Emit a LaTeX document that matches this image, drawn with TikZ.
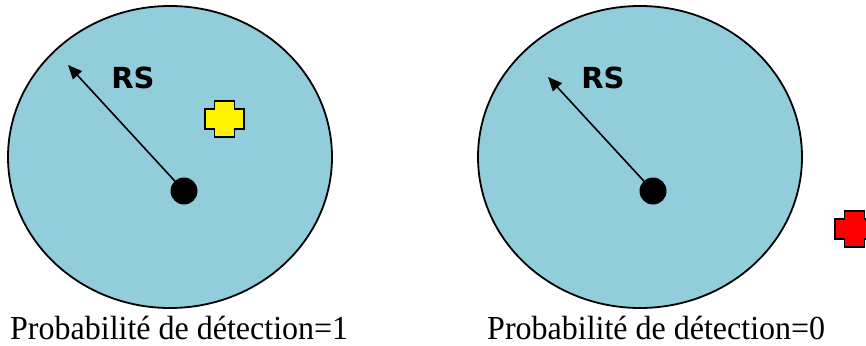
\documentclass[tikz,border=0pt]{standalone}
\usepackage{fontspec}
\setmainfont{Liberation Serif}
\newfontfamily\rsfont{DejaVu Sans}
\usepackage{xcolor}
\usepackage{tikz}
\usetikzlibrary{arrows.meta, positioning}
\definecolor{zonebleu}{RGB}{146, 205, 220}

\begin{document}
\begin{tikzpicture}[
  x=1pt, y=-1pt,
  zone/.style={draw=black, fill=zonebleu, line width=1.8pt},
  capteur/.style={circle, fill=black, inner sep=0pt, minimum size=27pt},
  rayon/.style={-{Triangle[length=14pt, width=12pt]}, line width=1.6pt},
  rslbl/.style={font=\rsfont\bfseries\fontsize{29}{30}\selectfont},
  proba/.style={font=\fontsize{32}{34}\selectfont, anchor=base west, inner sep=0pt, yscale=1.05},
  cible/.style={draw=black, line width=1.8pt, line join=miter}
]
\useasboundingbox (0,0) rectangle (866,345);

% left: target inside the range
\draw[zone] (170,157) ellipse [x radius=162, y radius=151];
\node[capteur] (dotA) at (184,191) {};
\coordinate (tipA) at (68,65);
\draw[rayon] (dotA.center) -- (tipA);
\node[rslbl] (rsA) at (133,78) {RS};
\draw[cible, fill=yellow] (214.5,101) -- (234.5,101) -- (234.5,109) -- (244,109)
  -- (244,129) -- (234.5,129) -- (234.5,137) -- (214.5,137) -- (214.5,129)
  -- (205,129) -- (205,109) -- (214.5,109) -- cycle;
\node[proba] (probA) at (10,339) {Probabilité de détection=1};

% right: target outside the range
\draw[zone] (640,157) ellipse [x radius=162, y radius=151];
\node[capteur] (dotB) at (653,191) {};
\coordinate (tipB) at (548,77);
\draw[rayon] (dotB.center) -- (tipB);
\node[rslbl] (rsB) at (603,78) {RS};
\draw[cible, fill=red] (844.5,211) -- (864.5,211) -- (864.5,219) -- (874,219)
  -- (874,239) -- (864.5,239) -- (864.5,247) -- (844.5,247) -- (844.5,239)
  -- (835,239) -- (835,219) -- (844.5,219) -- cycle;
\node[proba] (probB) at (487,339) {Probabilité de détection=0};

\end{tikzpicture}
\end{document}
